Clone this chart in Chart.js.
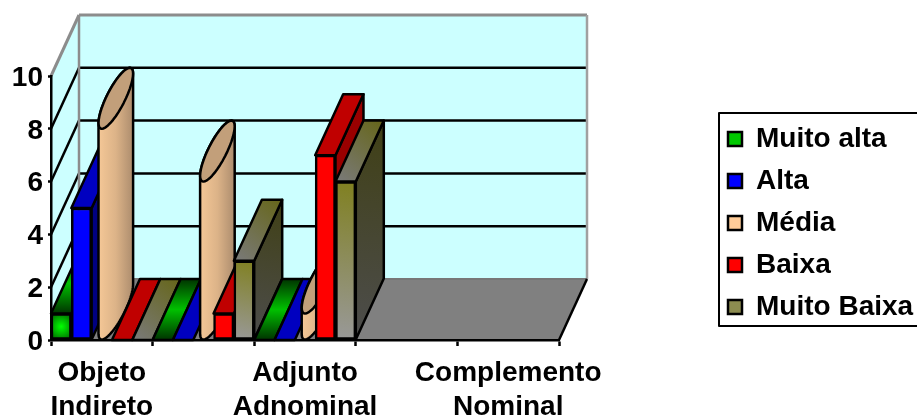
<!DOCTYPE html>
<html>
<head>
<meta charset="utf-8">
<style>
  html, body { margin: 0; padding: 0; background: #fff; overflow: hidden; }
  canvas { display: block; }
</style>
<script src="https://cdn.jsdelivr.net/npm/chart.js@4"></script>
</head>
<body>
<canvas id="grafico" width="917" height="417"></canvas>
<script>
// Datos
const categorias = [['Objeto', 'Indireto'], '', ['Adjunto', 'Adnominal'], '', ['Complemento', 'Nominal']];
const series = ['Muito alta', 'Alta', 'Média', 'Baixa', 'Muito Baixa'];
const muitoAlta = [1, 0, 0, null, null];
const alta = [5, 0, 0, null, null];
const media = [8, 6, 1, null, null];
const baixa = [0, 1, 7, null, null];
const muitoBaixa = [0, 3, 6, null, null];

// Caja del grafico y profundidad del efecto 3D
const fuente = 'Liberation Sans, Arial, sans-serif';
const profX = 28;
const profY = -61;
const marcoLeyenda = { left: 719, top: 113, width: 200, height: 213 };
const cajaLeyenda = { left: 714, top: 111, width: 203, height: 240 };
const grosor = 2.5;

function poligono(ctx, puntos, relleno) {
  ctx.beginPath();
  puntos.forEach((p, i) => i ? ctx.lineTo(p[0], p[1]) : ctx.moveTo(p[0], p[1]));
  ctx.closePath();
  ctx.fillStyle = relleno;
  ctx.fill();
  ctx.stroke();
}

function linea(ctx, x1, y1, x2, y2, color, ancho) {
  ctx.beginPath();
  ctx.moveTo(x1, y1);
  ctx.lineTo(x2, y2);
  ctx.strokeStyle = color;
  ctx.lineWidth = ancho;
  ctx.stroke();
}

function degradado(ctx, x1, y1, x2, y2, colores) {
  const g = ctx.createLinearGradient(x1, y1, x2, y2);
  colores.forEach((c, i) => g.addColorStop(i / (colores.length - 1), c));
  return g;
}

// Colores de cada cara segun la serie
function pinturaFrente(ctx, i, b) {
  if (i === 0) {
    const cx = b.x, cy = (b.y + b.base) / 2;
    const g = ctx.createRadialGradient(cx, cy, 0, cx, cy, b.width * 0.75);
    g.addColorStop(0, '#00ff00');
    g.addColorStop(1, '#006600');
    return g;
  }
  if (i === 4) return degradado(ctx, b.x - b.width / 2, b.base, b.x + b.width / 2, b.y, ['#999999', '#808020']);
  return ['', '#0000ff', '', '#ff0000'][i];
}

function pinturaArriba(ctx, i, b, x0, x1) {
  if (i === 0) return degradado(ctx, 0, b.y, 0, b.y + profY, ['#003300', '#00c000', '#003300']);
  if (i === 4) return degradado(ctx, x0, b.y, x1 + profX, b.y + profY, ['#7a7a7a', '#666619']);
  return ['', '#0000c0', '', '#c00000'][i];
}

function pinturaLado(ctx, i, b, x1) {
  if (i === 0) return '#005000';
  if (i === 4) return degradado(ctx, x1, b.base, x1 + profX, b.y + profY, ['#4d4d4d', '#404015']);
  return ['', '#000080', '', '#990000'][i];
}

// Barra de la serie Média: cilindro con base eliptica inclinada
function dibujarCilindro(ctx, b) {
  const medioX = b.width / 2;
  const cx = b.x + profX / 2;
  const t0 = Math.atan2(profX, b.width);
  const punto = (cy, t) => [cx + medioX * Math.cos(t) + profX / 2 * Math.sin(t), cy + profY / 2 * Math.sin(t)];
  const arco = (cy, desde, hasta) => {
    const pts = [];
    for (let k = 0; k <= 40; k++) pts.push(punto(cy, desde + (hasta - desde) * k / 40));
    return pts;
  };
  const yBase = b.base + profY / 2;
  const yTapa = b.y + profY / 2;
  const cuerpo = arco(yBase, t0 + Math.PI, t0 + 2 * Math.PI).concat(arco(yTapa, t0, t0 + Math.PI));
  const relleno = degradado(ctx, cx - 17, 0, cx + 17, 0, ['#f4c796', '#dcb388', '#ad8d6e']);
  poligono(ctx, cuerpo, relleno);
  poligono(ctx, arco(yTapa, 0, 2 * Math.PI), '#c29f7a');
}

const efecto3d = {
  id: 'efecto3d',
  afterUpdate(chart) {
    // Ubica la leyenda fuera del area de datos
    const l = chart.legend;
    l.left = cajaLeyenda.left;
    l.top = cajaLeyenda.top;
    l.width = cajaLeyenda.width;
    l.height = cajaLeyenda.height;
    l.right = l.left + l.width;
    l.bottom = l.top + l.height;
    l.adjustHitBoxes();
  },
  beforeDraw(chart) {
    const ctx = chart.ctx;
    const { left, right, top, bottom } = chart.chartArea;
    const y = chart.scales.y;
    ctx.save();
    ctx.lineJoin = 'round';
    ctx.lineWidth = 0;

    // Paredes y piso
    ctx.strokeStyle = 'rgba(0,0,0,0)';
    poligono(ctx, [[left, bottom], [left + profX, bottom + profY], [left + profX, top + profY], [left, top]], '#ccffff');
    poligono(ctx, [[left + profX, bottom + profY], [right + profX, bottom + profY], [right + profX, top + profY], [left + profX, top + profY]], '#ccffff');
    poligono(ctx, [[left, bottom], [right, bottom], [right + profX, bottom + profY], [left + profX, bottom + profY]], '#808080');

    // Lineas de division en la pared
    y.ticks.forEach(t => {
      const py = y.getPixelForValue(t.value);
      const color = t.value === y.max ? '#8c8c8c' : '#000';
      if (t.value !== y.min) linea(ctx, left + profX, py + profY, right + profX, py + profY, color, t.value === y.max ? 3 : grosor);
      linea(ctx, left, py, left + profX, py + profY, color, t.value === y.max ? 3 : grosor);
    });
    linea(ctx, left + profX, top + profY, left + profX, bottom + profY, '#8c8c8c', 2.5);
    linea(ctx, right + profX, top + profY, right + profX, bottom + profY, '#a0a0a0', 2.5);
    linea(ctx, left + profX, bottom + profY, right + profX, bottom + profY, '#777777', 2);
    linea(ctx, right, bottom, right + profX, bottom + profY, '#000', grosor);

    // Marco de la leyenda
    ctx.strokeStyle = '#000';
    ctx.lineWidth = 2;
    ctx.strokeRect(marcoLeyenda.left, marcoLeyenda.top, marcoLeyenda.width, marcoLeyenda.height);
    ctx.restore();
  },
  beforeDatasetsDraw(chart) {
    const ctx = chart.ctx;
    ctx.save();
    ctx.strokeStyle = '#000';
    ctx.lineWidth = grosor;
    ctx.lineJoin = 'round';

    // De izquierda a derecha, para que cada barra tape a la anterior
    chart.data.labels.forEach((_, c) => {
      chart.data.datasets.forEach((ds, i) => {
        if (ds.data[c] === null) return;
        const el = chart.getDatasetMeta(i).data[c];
        const b = el.getProps(['x', 'y', 'base', 'width'], true);
        const x0 = b.x - b.width / 2;
        const x1 = b.x + b.width / 2;

        if (i === 2) {
          dibujarCilindro(ctx, b);
          el.options = Object.assign({}, el.options, { backgroundColor: 'rgba(0,0,0,0)', borderWidth: 0 });
          return;
        }
        if (b.y !== b.base) {
          poligono(ctx, [[x1, b.y], [x1, b.base], [x1 + profX, b.base + profY], [x1 + profX, b.y + profY]], pinturaLado(ctx, i, b, x1));
        }
        poligono(ctx, [[x0, b.y], [x1, b.y], [x1 + profX, b.y + profY], [x0 + profX, b.y + profY]], pinturaArriba(ctx, i, b, x0, x1));
        el.options = Object.assign({}, el.options, { backgroundColor: pinturaFrente(ctx, i, b) });
      });
    });
    ctx.restore();
  }
};

const coloresLeyenda = ['#00c800', '#0000ff', '#ffcc99', '#ff0000', '#8c8c50'];
const valores = [muitoAlta, alta, media, baixa, muitoBaixa];

new Chart(document.getElementById('grafico').getContext('2d'), {
  type: 'bar',
  data: {
    labels: categorias,
    datasets: series.map((nombre, i) => ({
      label: nombre,
      data: valores[i],
      backgroundColor: coloresLeyenda[i],
      borderColor: '#000',
      borderWidth: grosor,
      borderSkipped: false,
      barPercentage: 1,
      categoryPercentage: 1,
      clip: false
    }))
  },
  options: {
    responsive: false,
    animation: false,
    layout: { padding: { top: 76, right: 358, left: 0, bottom: 0 } },
    plugins: {
      title: { display: false },
      tooltip: { enabled: false },
      legend: {
        position: 'chartArea',
        align: 'start',
        labels: {
          color: '#000',
          font: { family: fuente, size: 28, weight: 'bold' },
          boxWidth: 14,
          boxHeight: 14,
          padding: 14
        }
      }
    },
    scales: {
      x: {
        afterFit(scale) { scale.height = 77; },
        border: { color: '#000', width: grosor, z: 1 },
        grid: { drawOnChartArea: false, tickLength: 6, tickColor: '#000', tickWidth: grosor, offset: true },
        ticks: {
          color: '#000',
          autoSkip: false,
          maxRotation: 0,
          minRotation: 0,
          padding: 10,
          font: { family: fuente, size: 28, weight: 'bold', lineHeight: 1.22 }
        }
      },
      y: {
        min: 0,
        max: 10,
        afterFit(scale) { scale.width = 51; },
        border: { color: '#000', width: grosor, z: 1 },
        grid: { drawOnChartArea: false, tickLength: 3, tickColor: '#000', tickWidth: grosor },
        ticks: {
          color: '#000',
          stepSize: 2,
          padding: 5,
          labelOffset: 2,
          font: { family: fuente, size: 28, weight: 'bold' }
        }
      }
    }
  },
  plugins: [efecto3d]
});
</script>
</body>
</html>
